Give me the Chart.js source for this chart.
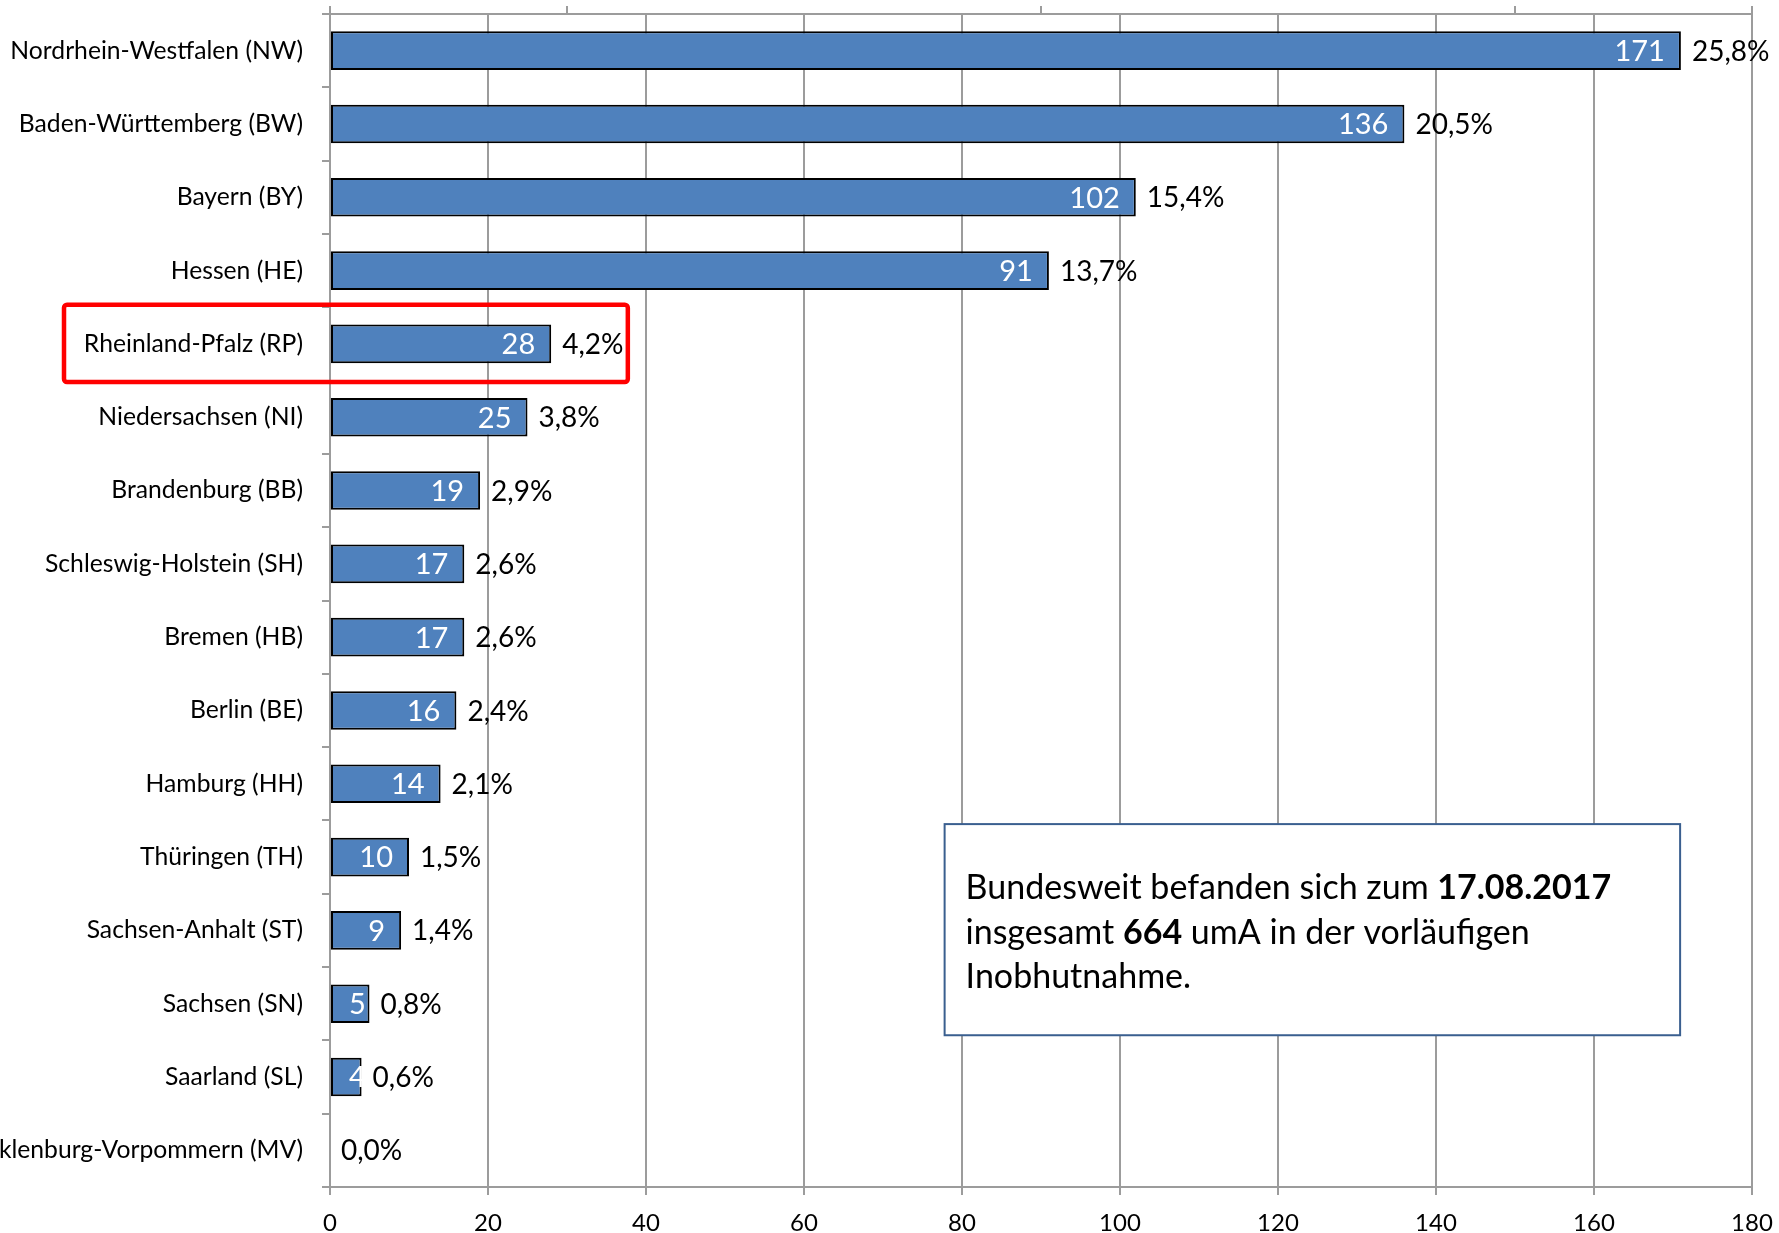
<!DOCTYPE html>
<html>
<head>
<meta charset="utf-8">
<script src="https://cdn.jsdelivr.net/npm/chart.js@4.4.1/dist/chart.umd.min.js"></script>
<style>
  html, body { margin: 0; padding: 0; background: #ffffff; overflow: hidden; }
  canvas { display: block; }
</style>
</head>
<body>
<canvas id="c" width="1779" height="1233"></canvas>
<script>
// ---- data ----
const categories = [
  'Nordrhein-Westfalen (NW)', 'Baden-Württemberg (BW)', 'Bayern (BY)', 'Hessen (HE)',
  'Rheinland-Pfalz (RP)', 'Niedersachsen (NI)', 'Brandenburg (BB)', 'Schleswig-Holstein (SH)',
  'Bremen (HB)', 'Berlin (BE)', 'Hamburg (HH)', 'Thüringen (TH)',
  'Sachsen-Anhalt (ST)', 'Sachsen (SN)', 'Saarland (SL)', 'Mecklenburg-Vorpommern (MV)'
];
const counts = [171, 136, 102, 91, 28, 25, 19, 17, 17, 16, 14, 10, 9, 5, 4, 0];
const shares = ['25,8%', '20,5%', '15,4%', '13,7%', '4,2%', '3,8%', '2,9%', '2,6%',
                '2,6%', '2,4%', '2,1%', '1,5%', '1,4%', '0,8%', '0,6%', '0,0%'];
const xMin = 0, xMax = 180, xStep = 20;
const topTickValues = [0, 30, 90, 150, 180];
const highlightIndex = 4;
const noteDate = '17.08.2017';
const total = counts.reduce((a, b) => a + b, 0);

// ---- styles ----
const FONT = 'Lato';
const GRID = '#9c9c9c';

const labelPlugin = {
  id: 'barLabels',
  afterDatasetsDraw(chart) {
    const ctx = chart.ctx;
    const meta = chart.getDatasetMeta(0);
    ctx.save();
    ctx.textBaseline = 'middle';
    meta.data.forEach((el, i) => {
      const t = String(counts[i]);
      ctx.font = '29px ' + FONT;
      const w = ctx.measureText(t).width;
      const left = Math.max(el.x - 16 - w, el.base + 18);
      ctx.fillStyle = '#ffffff';
      ctx.textAlign = 'left';
      ctx.fillText(t, left, el.y + 1);
      ctx.font = '28px ' + FONT;
      ctx.fillStyle = '#000000';
      ctx.fillText(shares[i], el.x + 11, el.y + 1);
    });
    ctx.restore();
  }
};

const overlayPlugin = {
  id: 'overlay',
  afterDraw(chart) {
    const ctx = chart.ctx;
    const xs = chart.scales.x, ys = chart.scales.y;
    const catH = (ys.bottom - ys.top) / categories.length;
    ctx.save();
    // red highlight frame
    const cy = ys.getPixelForValue(highlightIndex);
    const rl = chart.chartArea.left - 266;
    const rr = xs.getPixelForValue(37.7);
    const rt = cy - 0.535 * catH, rb = cy + 0.52 * catH;
    ctx.strokeStyle = '#ff0000';
    ctx.lineWidth = 4.5;
    ctx.beginPath();
    if (ctx.roundRect) ctx.roundRect(rl, rt, rr - rl, rb - rt, 3); else ctx.rect(rl, rt, rr - rl, rb - rt);
    ctx.stroke();

    // note box
    const bl = xs.getPixelForValue(77.8), br = xs.getPixelForValue(170.9);
    const bt = ys.getPixelForValue(10.55), bb = ys.getPixelForValue(13.43);
    ctx.fillStyle = '#ffffff';
    ctx.fillRect(bl, bt, br - bl, bb - bt);
    ctx.strokeStyle = '#3a5f8f';
    ctx.lineWidth = 2;
    ctx.strokeRect(bl, bt, br - bl, bb - bt);
    const lines = [
      [['Bundesweit befanden sich zum ', false], [noteDate, true]],
      [['insgesamt ', false], [String(total), true], [' umA in der vorläufigen', false]],
      [['Inobhutnahme.', false]]
    ];
    ctx.fillStyle = '#000000';
    ctx.textBaseline = 'alphabetic';
    ctx.textAlign = 'left';
    lines.forEach((segs, li) => {
      let x = bl + 21;
      const y = bt + 75 + li * 44.5;
      segs.forEach(([t, bold]) => {
        ctx.font = (bold ? 'bold ' : '') + '34px ' + FONT;
        ctx.fillText(t, x, y);
        x += ctx.measureText(t).width;
      });
    });
    ctx.restore();
  }
};

new Chart(document.getElementById('c'), {
  type: 'bar',
  data: {
    labels: categories,
    datasets: [{
      data: counts,
      backgroundColor: '#4f81bd',
      borderColor: '#000000',
      borderWidth: 2,
      borderSkipped: false,
      categoryPercentage: 1.0,
      barPercentage: 0.527
    }]
  },
  options: {
    indexAxis: 'y',
    responsive: false,
    animation: false,
    events: [],
    layout: { autoPadding: false, padding: { left: 0, right: 27, top: 0, bottom: 0 } },
    plugins: { legend: { display: false }, tooltip: { enabled: false } },
    scales: {
      x: {
        type: 'linear', position: 'bottom', min: xMin, max: xMax,
        ticks: { stepSize: xStep, color: '#000000', font: { family: FONT, size: 24 }, padding: 14, maxRotation: 0 },
        grid: { color: GRID, lineWidth: 2, tickLength: 8 },
        border: { color: GRID, width: 2 },
        afterFit(s) { s.height = 46; s.paddingLeft = 0; s.paddingRight = 0; }
      },
      x2: {
        type: 'linear', position: 'top', min: xMin, max: xMax,
        afterBuildTicks(s) { s.ticks = topTickValues.map(v => ({ value: v })); },
        ticks: { display: false },
        grid: { drawOnChartArea: false, color: GRID, lineWidth: 2, tickLength: 8 },
        border: { color: GRID, width: 2 },
        afterFit(s) { s.height = 14; s.paddingLeft = 0; s.paddingRight = 0; }
      },
      y: {
        type: 'category', position: 'left', offset: true,
        ticks: { color: '#000000', font: { family: FONT, size: 24.7 }, padding: 19, autoSkip: false },
        grid: { offset: true, drawOnChartArea: false, color: GRID, lineWidth: 2, tickLength: 8 },
        border: { color: GRID, width: 2 },
        afterFit(s) { s.width = 330; s.paddingTop = 0; s.paddingBottom = 0; }
      }
    }
  },
  plugins: [labelPlugin, overlayPlugin]
});
</script>
</body>
</html>
